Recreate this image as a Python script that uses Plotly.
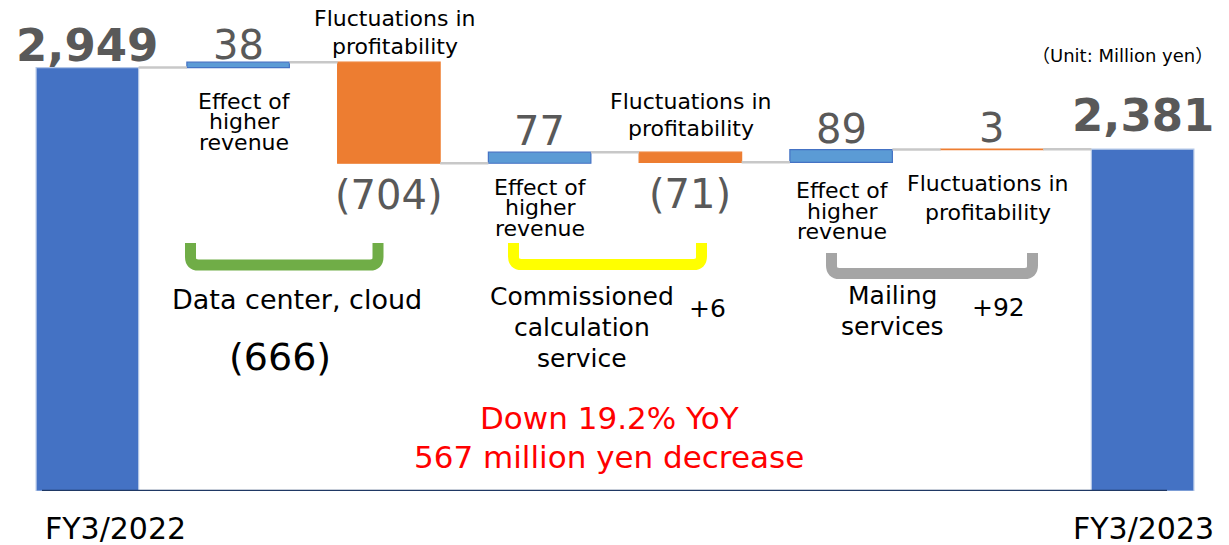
import plotly.graph_objects as go

# waterfall data (million yen)
categories = ["FY3/2022", "DC revenue", "DC profitability", "CC revenue",
              "CC profitability", "MS revenue", "MS profitability", "FY3/2023"]
measures = ["absolute", "relative", "relative", "relative",
            "relative", "relative", "relative", "total"]
values = [2949, 38, -704, 77, -71, 89, 3, 2381]
kinds = ["total", "revenue", "profit", "revenue", "profit", "revenue", "profit", "total"]

captions = ["", "Effect of<br>higher<br>revenue", "Fluctuations in<br>profitability",
            "Effect of<br>higher<br>revenue", "Fluctuations in<br>profitability",
            "Effect of<br>higher<br>revenue", "Fluctuations in<br>profitability", ""]

group_names = ["Data center, cloud", "Commissioned<br>calculation<br>service", "Mailing<br>services"]
group_members = [[1, 2], [3, 4], [5, 6]]
group_colors = ["#70AD47", "#FFFF00", "#A5A5A5"]

period_labels = ["FY3/2022", "FY3/2023"]
summary_lines = ["Down 19.2% YoY", "567 million yen decrease"]
unit_text = "（Unit: Million yen）"

FONT = "DejaVu Sans, Noto Sans CJK JP"
W, H = 1229, 545
L, R, T, B = 12, 11, 0, 54
PW, PH = W - L - R, H - T - B
BAR_W = 0.68

fill = {"total": "#4472C4", "revenue": "#5B9BD5", "profit": "#ED7D31"}
edge = {"total": "#B4C7E7", "revenue": "#4472C4", "profit": "#ED7D31"}


def px(x):
    return (x - L) / PW


def py(y):
    return (H - B - y) / PH


def fmt(v, sign=False):
    if v < 0:
        return "(" + format(-v, ",") + ")"
    return ("+" if sign else "") + format(v, ",")


# bar extents
tops, bottoms, levels = [], [], []
level = 0
for m, v in zip(measures, values):
    if m == "relative":
        start = level
        level += v
    else:
        start = 0
        if m == "absolute":
            level = v
    tops.append(max(start, level))
    bottoms.append(min(start, level))
    levels.append(level)

xs = list(range(len(categories)))

fig = go.Figure()
fig.add_trace(go.Bar(
    x=xs, y=[t - b for t, b in zip(tops, bottoms)], base=bottoms, width=BAR_W,
    marker=dict(color=[fill[k] for k in kinds], line=dict(color=[edge[k] for k in kinds], width=1.2)),
    hoverinfo="skip",
))

# connectors between neighbouring bars at the running level
cx, cy = [], []
for i in range(len(xs) - 1):
    cx += [xs[i] + BAR_W / 2, xs[i + 1] - BAR_W / 2, None]
    cy += [levels[i], levels[i], None]
fig.add_trace(go.Scatter(x=cx, y=cy, mode="lines", line=dict(color="#C8C8C8", width=2.5),
                         hoverinfo="skip"))

ann = []


def text(x, y, s, size, color="black", spacing=None):
    lines = s.split("<br>")
    if spacing is None:
        spacing = size * 1.0
    for i, line in enumerate(lines):
        ann.append(dict(x=px(x), y=py(y + i * spacing), xref="paper", yref="paper",
                        text=line, showarrow=False, xanchor="center", yanchor="middle",
                        font=dict(family=FONT, size=size, color=color)))


# value labels tied to bar ends
for i, (m, v) in enumerate(zip(measures, values)):
    if m != "relative":
        shift = 22 if i == 0 else 34
        ann.append(dict(x=xs[i], y=tops[i], text="<b>" + fmt(v) + "</b>", showarrow=False,
                        yanchor="middle", yshift=shift,
                        font=dict(family=FONT, size=45, color="#595959")))
    elif v >= 0:
        ann.append(dict(x=xs[i], y=tops[i], text=fmt(v), showarrow=False,
                        yanchor="middle", yshift=21 if i > 1 else 17,
                        font=dict(family=FONT, size=40, color="#595959")))
    else:
        ann.append(dict(x=xs[i], y=bottoms[i], text=fmt(v), showarrow=False,
                        yanchor="middle", yshift=-32,
                        font=dict(family=FONT, size=40, color="#595959")))

# bar captions
caption_pos = [None, (244, 101, 21), (395, 19, 28), (540, 187, 21),
               (691, 102, 27), (842, 190, 21), (988, 183, 29), None]
for c, p in zip(captions, caption_pos):
    if p:
        text(p[0], p[1], c, 22, spacing=p[2])

# group brackets and subtotals
bracket_pos = [(190.5, 378, 243, 265), (513.5, 701.5, 243, 264.5), (831.5, 1032.5, 253, 273.5)]
name_pos = [(297, 300, 27), (582, 296, 25), (892, 295, 25)]
total_pos = [(280, 357, 38), (707, 308, 25), (998, 307, 25)]
shapes = []
for members, color, (x0, x1, y0, y1), (nx, ny, ns), (tx, ty, ts), name in zip(
        group_members, group_colors, bracket_pos, name_pos, total_pos, group_names):
    r = 8
    path = (f"M {px(x0)},{py(y0)} L {px(x0)},{py(y1 - r)} "
            f"Q {px(x0)},{py(y1)} {px(x0 + r)},{py(y1)} "
            f"L {px(x1 - r)},{py(y1)} Q {px(x1)},{py(y1)} {px(x1)},{py(y1 - r)} "
            f"L {px(x1)},{py(y0)}")
    shapes.append(dict(type="path", path=path, xref="paper", yref="paper",
                       line=dict(color=color, width=11)))
    text(nx, ny, name, ns, spacing=31)
    subtotal = sum(values[i] for i in members)
    text(tx, ty, fmt(subtotal, sign=True), ts)

# axis line
shapes.append(dict(type="line", xref="paper", yref="y", x0=px(42), x1=px(1167), y0=0, y1=0,
                   line=dict(color="#1F3864", width=2.5)))

text(115, 528, period_labels[0], 30)
text(1143, 528, period_labels[1], 30)
text(609, 418, summary_lines[0], 31, color="#FF0000")
text(609, 457, summary_lines[1], 31, color="#FF0000")
text(1122, 55, unit_text, 18)

fig.update_layout(
    width=W, height=H, margin=dict(l=L, r=R, t=T, b=B),
    plot_bgcolor="white", paper_bgcolor="white",
    showlegend=False,
    xaxis=dict(visible=False, range=[-0.5, 7.5]),
    yaxis=dict(visible=False, range=[0, 3420]),
    annotations=ann, shapes=shapes,
)

fig.write_html("out.html", config={"displayModeBar": False},
               post_script="document.body.style.margin='0px';")
